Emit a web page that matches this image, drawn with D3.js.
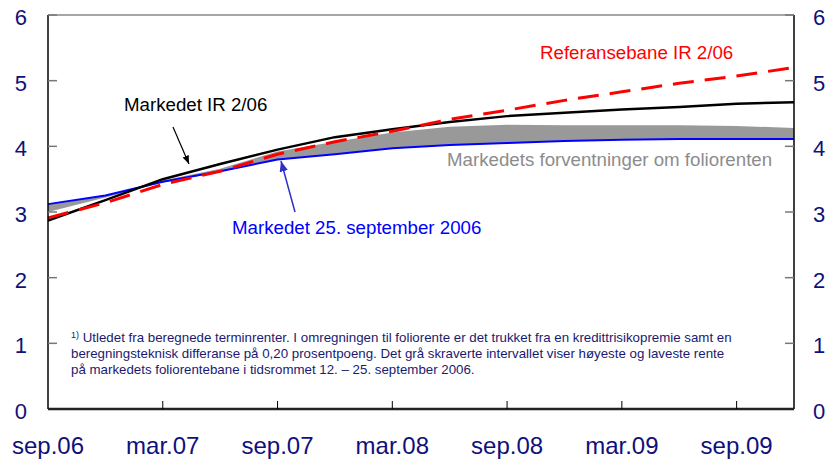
<!DOCTYPE html>
<html lang="no">
<head>
<meta charset="UTF-8">
<title>Markedets forventninger om foliorenten</title>
<script src="https://d3js.org/d3.v7.min.js"></script>
<style>
    body {
        margin: 0;
        padding: 0;
        background-color: #fff;
        font-family: Arial, 'Liberation Sans', sans-serif;
    }
    .tick-label {
        fill: #10107a;
    }
    .note {
        fill: #1a1a70;
        font-size: 13.3px;
    }
</style>
</head>
<body>
<div id="chart"></div>
<script>
    // quarters from sep.06 to des.09
    const quarters = ["sep.06", "des.06", "mar.07", "jun.07", "sep.07", "des.07", "mar.08",
        "jun.08", "sep.08", "des.08", "mar.09", "jun.09", "sep.09", "des.09"];
    const xTickLabels = ["sep.06", "mar.07", "sep.07", "mar.08", "sep.08", "mar.09", "sep.09"];
    const yTicks = [0, 1, 2, 3, 4, 5, 6];

    // Markedet IR 2/06
    const marketIR = [2.87, 3.18, 3.50, 3.73, 3.95, 4.14, 4.26, 4.37, 4.46, 4.51, 4.56, 4.60, 4.65, 4.67];
    // Referansebane IR 2/06
    const referanse = [2.91, 3.14, 3.42, 3.62, 3.88, 4.07, 4.23, 4.41, 4.55, 4.70, 4.83, 4.96, 5.07, 5.20];
    // Markedet 25. september 2006
    const market25sep = [3.12, 3.25, 3.46, 3.62, 3.80, 3.88, 3.97, 4.02, 4.05, 4.08, 4.10, 4.11, 4.11, 4.11];
    // grått intervall: høyeste og laveste rente 12.-25. september
    const bandHigh = [3.12, 3.25, 3.48, 3.66, 3.92, 4.07, 4.21, 4.30, 4.33, 4.32, 4.32, 4.32, 4.31, 4.28];
    const bandLow = [3.00, 3.22, 3.45, 3.61, 3.80, 3.88, 3.97, 4.02, 4.05, 4.08, 4.10, 4.11, 4.11, 4.11];

    const footnote = [
        "Utledet fra beregnede terminrenter. I omregningen til foliorente er det trukket fra en kredittrisikopremie samt en",
        "beregningsteknisk differanse på 0,20 prosentpoeng. Det grå skraverte intervallet viser høyeste og laveste rente",
        "på markedets foliorentebane i tidsrommet 12. – 25. september 2006."
    ];

    const width = 829, height = 462;
    const margin = { top: 15, right: 35, bottom: 53, left: 48 };
    const plotRight = width - margin.right;
    const plotBottom = height - margin.bottom;

    const svg = d3.select("#chart").append("svg")
        .attr("width", width)
        .attr("height", height);

    const x = d3.scalePoint()
        .domain(quarters)
        .range([margin.left, plotRight]);

    const y = d3.scaleLinear()
        .domain([0, 6])
        .range([plotBottom, margin.top]);

    const rows = quarters.map((q, i) => ({
        q: q,
        ir: marketIR[i],
        ref: referanse[i],
        m25: market25sep[i],
        hi: bandHigh[i],
        lo: bandLow[i]
    }));

    // grey band
    svg.append("path")
        .datum(rows)
        .attr("fill", "#999999")
        .attr("d", d3.area()
            .x(d => x(d.q))
            .y0(d => y(d.lo))
            .y1(d => y(d.hi)));

    const line = key => d3.line().x(d => x(d.q)).y(d => y(d[key]));

    svg.append("path")
        .datum(rows)
        .attr("fill", "none")
        .attr("stroke", "#0000ff")
        .attr("stroke-width", 2)
        .attr("d", line("m25"));

    svg.append("path")
        .datum(rows)
        .attr("fill", "none")
        .attr("stroke", "#000")
        .attr("stroke-width", 2.5)
        .attr("d", line("ir"));

    svg.append("path")
        .datum(rows)
        .attr("fill", "none")
        .attr("stroke", "#ff0000")
        .attr("stroke-width", 3)
        .attr("stroke-dasharray", "21,11")
        .attr("d", line("ref"));

    // frame
    svg.append("line")
        .attr("x1", margin.left).attr("x2", plotRight)
        .attr("y1", margin.top).attr("y2", margin.top)
        .attr("stroke", "#888").attr("stroke-width", 1.5);
    svg.append("line")
        .attr("x1", margin.left).attr("x2", margin.left)
        .attr("y1", margin.top).attr("y2", plotBottom)
        .attr("stroke", "#000").attr("stroke-width", 1.5);
    svg.append("line")
        .attr("x1", plotRight).attr("x2", plotRight)
        .attr("y1", margin.top).attr("y2", plotBottom)
        .attr("stroke", "#000").attr("stroke-width", 1.5);

    // y ticks, both sides
    yTicks.forEach(v => {
        svg.append("line")
            .attr("x1", margin.left).attr("x2", margin.left + 9)
            .attr("y1", y(v)).attr("y2", y(v))
            .attr("stroke", "#777").attr("stroke-width", 1.5);
        svg.append("line")
            .attr("x1", plotRight - 9).attr("x2", plotRight)
            .attr("y1", y(v)).attr("y2", y(v))
            .attr("stroke", "#777").attr("stroke-width", 1.5);
        svg.append("text")
            .attr("class", "tick-label")
            .attr("x", 27).attr("y", y(v) + 10)
            .attr("text-anchor", "end")
            .style("font-size", "22px")
            .text(v);
        svg.append("text")
            .attr("class", "tick-label")
            .attr("x", 813).attr("y", y(v) + 10)
            .attr("text-anchor", "start")
            .style("font-size", "22px")
            .text(v);
    });

    // x axis
    svg.append("line")
        .attr("x1", margin.left).attr("x2", plotRight)
        .attr("y1", plotBottom).attr("y2", plotBottom)
        .attr("stroke", "#222").attr("stroke-width", 2.5);

    xTickLabels.forEach(t => {
        if (t !== "sep.06") {
            svg.append("line")
                .attr("x1", x(t)).attr("x2", x(t))
                .attr("y1", plotBottom).attr("y2", plotBottom - 8)
                .attr("stroke", "#000").attr("stroke-width", 1);
        }
        svg.append("text")
            .attr("class", "tick-label")
            .attr("x", x(t)).attr("y", 454)
            .attr("text-anchor", "middle")
            .style("font-size", "24px")
            .text(t);
    });

    // arrow markers
    const defs = svg.append("defs");
    [["arrBlack", "#000"], ["arrBlue", "#3030c8"]].forEach(([id, c]) => {
        defs.append("marker")
            .attr("id", id)
            .attr("viewBox", "0 0 10 10")
            .attr("refX", 10).attr("refY", 5)
            .attr("markerWidth", 7).attr("markerHeight", 7)
            .attr("orient", "auto")
            .append("path")
            .attr("d", "M0,1 L10,5 L0,9 Z")
            .attr("fill", c);
    });

    svg.append("line")
        .attr("x1", 173).attr("y1", 127)
        .attr("x2", 189).attr("y2", 164)
        .attr("stroke", "#000").attr("stroke-width", 1.2)
        .attr("marker-end", "url(#arrBlack)");
    svg.append("line")
        .attr("x1", 295).attr("y1", 212)
        .attr("x2", 281).attr("y2", 161)
        .attr("stroke", "#3030c8").attr("stroke-width", 1.5)
        .attr("marker-end", "url(#arrBlue)");

    // series labels
    const labels = [
        { text: "Referansebane IR 2/06", x: 540, y: 59, color: "#ff0000" },
        { text: "Markedet IR 2/06", x: 124, y: 111, color: "#000" },
        { text: "Markedets forventninger om foliorenten", x: 447, y: 166, color: "#8c8c8c" },
        { text: "Markedet 25. september 2006", x: 232, y: 234, color: "#0000ff" }
    ];
    labels.forEach(l => {
        svg.append("text")
            .attr("x", l.x).attr("y", l.y)
            .attr("fill", l.color)
            .style("font-size", "18.7px")
            .text(l.text);
    });

    // footnote
    const note = svg.append("text")
        .attr("class", "note")
        .attr("x", 71).attr("y", 342);
    note.append("tspan")
        .attr("font-size", "9px")
        .attr("dy", -4)
        .text("1)");
    note.append("tspan")
        .attr("dy", 4)
        .text(" " + footnote[0]);
    footnote.slice(1).forEach((t, i) => {
        svg.append("text")
            .attr("class", "note")
            .attr("x", 71).attr("y", 358 + i * 16)
            .text(t);
    });
</script>
</body>
</html>
